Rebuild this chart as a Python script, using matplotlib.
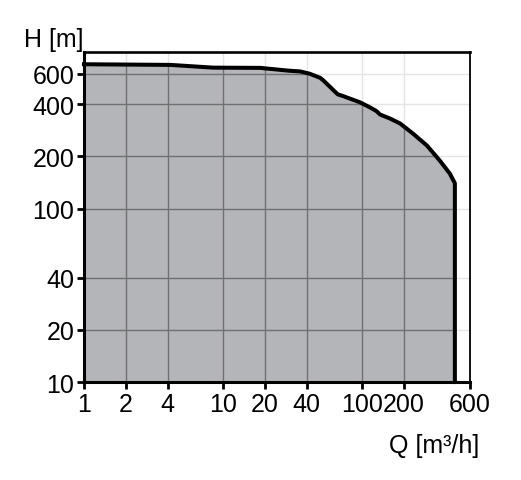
import matplotlib

matplotlib.use("Agg")

import matplotlib.pyplot as plt  # noqa: E402
from matplotlib.patches import Polygon  # noqa: E402

debit = [1, 4.2, 8.5, 18.5, 30, 36, 42, 50, 52.5, 67, 73, 97, 114, 128,
         135, 159, 188, 233, 294, 364, 430, 467, 467]
hauteur = [680, 674, 650, 648, 624, 618, 600, 568, 551, 456, 446, 410, 384,
           364, 349, 331, 310, 271, 231, 189, 159, 140, 10]

x_ticks = [1, 2, 4, 10, 20, 40, 100, 200, 600]
x_labels = ["1", "2", "4", "10", "20", "40", "100", "200", "600"]
y_ticks = [10, 20, 40, 100, 200, 400, 600]
y_labels = ["10", "20", "40", "100", "200", "400", "600"]
x_lim = (1, 600)
y_lim = (10, 800)

plt.rcParams["font.family"] = ["Liberation Sans", "DejaVu Sans"]

fig = plt.figure(figsize=(5.21, 4.81), dpi=100)
ax = fig.add_axes([0.1612, 0.2037, 0.7409, 0.6861])
ax.set_xscale("log")
ax.set_yscale("log")
ax.set_xlim(*x_lim)
ax.set_ylim(*y_lim)

# grille claire sur fond blanc
for xv in x_ticks[1:-1]:
    ax.axvline(xv, color="#e4e4e4", lw=1.0, zorder=1)
for yv in y_ticks[1:]:
    ax.axhline(yv, color="#e4e4e4", lw=1.0, zorder=1)

# surface sous la courbe
verts = list(zip(debit, hauteur)) + [(debit[0], y_lim[0])]
poly = Polygon(verts, closed=True, facecolor="#b4b5b9", edgecolor="none",
               zorder=2)
ax.add_patch(poly)

# grille plus foncée dans la surface
for xv in x_ticks[1:-1]:
    ln = ax.axvline(xv, color="#707070", lw=1.0, zorder=3)
    ln.set_clip_path(poly)
for yv in y_ticks[1:]:
    ln = ax.axhline(yv, color="#707070", lw=1.0, zorder=3)
    ln.set_clip_path(poly)

ax.plot(debit, hauteur, color="black", lw=2.9, zorder=4,
        solid_joinstyle="round", clip_on=False)

ax.set_xticks(x_ticks)
ax.set_xticklabels(x_labels)
ax.set_yticks(y_ticks)
ax.set_yticklabels(y_labels)
ax.minorticks_off()
ax.tick_params(direction="out", length=5, width=2, labelsize=18, pad=2,
               colors="black")

for side in ("left", "bottom"):
    ax.spines[side].set_linewidth(2.2)
ax.spines["top"].set_linewidth(1.9)
ax.spines["right"].set_linewidth(1.3)
for sp in ax.spines.values():
    sp.set_zorder(5)

fig.text(0.046, 0.916, "H [m]", fontsize=18, ha="left", va="center")
fig.text(0.920, 0.073, "Q [m³/h]", fontsize=18, ha="right", va="center")

fig.savefig("out.png", dpi=100)
plt.close(fig)
